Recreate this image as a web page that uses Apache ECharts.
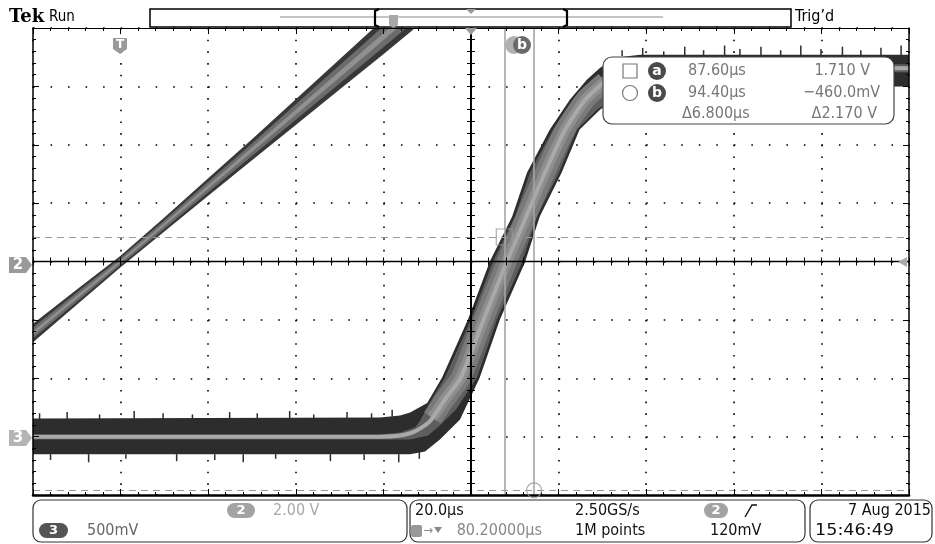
<!DOCTYPE html>
<html><head><meta charset="utf-8">
<script src="https://cdn.jsdelivr.net/npm/echarts/dist/echarts.min.js"></script>
<style>html,body{margin:0;padding:0;background:#fff}#c{width:935px;height:544px}</style>
</head><body><div id="c"></div><script>
// ---- axes (oscilloscope graticule) ----
const timeRange = [-20, 180, 20];      // µs, 20.0µs/div, trigger at t=0
const ch2Range  = [-8, 8, 2];          // V, 2.00 V/div
const ch3Range  = [-0.5, 3.5, 0.5];    // V, 500mV/div

// ---- channel 2 : ramp (band edges) ----
const ch2Time  = [-20, -10, 0, 10, 20, 30, 40, 50, 60, 70];
const ch2Upper = [-2.13, -0.96, 0.20, 1.51, 2.85, 4.19, 5.56, 6.93, 8.30, 9.66];
const ch2Lower = [-2.77, -1.48, -0.20, 1.03, 2.25, 3.47, 4.68, 5.89, 7.10, 8.34];

// ---- channel 3 : step (persistence band) [t µs, V] ----
const ch3UpperEdge = [[-20,0.156],[59.2,0.164],[63.8,0.18],[66.1,0.207],[70.0,0.287],[73.4,0.507],[79.3,1.004],[84.3,1.50],[89.4,1.885],[92.8,2.262],[98.0,2.630],[102.6,2.887],[106.5,3.058],[109.5,3.16],[112.9,3.245],[118.6,3.27],[180,3.27]];
const ch3LowerEdge = [[-20,-0.152],[66.1,-0.152],[69.5,-0.127],[72.9,-0.024],[77.5,0.147],[82.0,0.507],[86.6,1.004],[92.3,1.491],[95.7,1.885],[100.7,2.262],[104.8,2.630],[109.5,2.802],[114.0,2.913],[119.7,2.973],[125.4,2.99],[180,3.0]];
const ch3InnerUpper = [[-20,0.019],[59.2,0.019],[63.8,0.036],[67.2,0.079],[68.4,0.139],[70.6,0.293],[74.06,0.507],[80.0,1.004],[85.0,1.50],[90.04,1.885],[93.47,2.262],[98.72,2.63],[103.28,2.87],[107.62,3.015],[113.0,3.18],[123.2,3.19],[180,3.19]];
const ch3InnerLower = [[-20,-0.024],[66.1,-0.024],[70.2,0.01],[72.9,0.096],[76.6,0.233],[81.37,0.507],[85.93,1.004],[91.64,1.491],[95.06,1.885],[100.09,2.262],[104.2,2.63],[108.8,2.80],[113.2,2.92],[117.0,3.06],[122.0,3.11],[180,3.12]];
const ch3RiseCore = [[71.2,0.16],[74.1,0.32],[77.7,0.507],[82.9,1.004],[88.2,1.50],[92.6,1.885],[96.9,2.262],[101.5,2.63],[106.1,2.887],[110.6,3.04]];
const ch3Center = [[-20,0],[59.2,0],[63.8,0.01],[67.2,0.045],[70.6,0.13],[74.1,0.32],[77.7,0.507],[82.9,1.004],[88.2,1.50],[92.6,1.885],[96.9,2.262],[101.5,2.63],[106.1,2.887],[110.6,3.04],[116.3,3.13],[123.2,3.155],[180,3.155]];
// noise spikes [t, from V, to V]
const ch3Spikes = [[-18.5,0.15,0.20],[-12.2,0.15,0.21],[-4.8,0.15,0.19],[3.1,0.15,0.22],[9.7,0.15,0.20],[16.4,0.15,0.19],[24.9,0.15,0.21],[31.2,0.15,0.20],[38.6,0.15,0.22],[44.1,0.15,0.19],[51.7,0.15,0.21],[57.3,0.15,0.20],[62.0,0.17,0.23],
  [-16.0,-0.15,-0.20],[-7.3,-0.15,-0.22],[1.2,-0.15,-0.19],[12.8,-0.15,-0.21],[21.5,-0.15,-0.20],[28.0,-0.15,-0.22],[35.4,-0.15,-0.19],[47.9,-0.15,-0.21],[55.6,-0.15,-0.20],[63.5,-0.15,-0.22],[68.2,-0.13,-0.19],
  [114.5,3.26,3.31],[119.2,3.26,3.33],[124.0,3.26,3.30],[128.8,3.26,3.34],[133.1,3.26,3.31],[137.9,3.26,3.35],[141.4,3.26,3.32],[146.2,3.26,3.34],[150.7,3.26,3.31],[155.3,3.26,3.35],[159.9,3.26,3.32],[164.8,3.26,3.34],[169.0,3.26,3.31],[173.6,3.26,3.33],[178.2,3.26,3.35]];

// ---- cursors (on ch3) ----
const cursorTimes = [87.6, 94.4];
const cursorVolts = [1.71, -0.46];

const FONT = "'Liberation Sans Narrow','DejaVu Sans Condensed','DejaVu Sans',sans-serif";

function axis(range, o) {
  return {
    type: 'value', min: range[0], max: range[1], interval: range[2],
    position: o.pos, offset: o.offset || 0, z: o.z || 0, show: o.show !== false, silent: true,
    axisLabel: { show: false },
    axisLine: { show: !!o.line, onZero: false, lineStyle: { color: '#000', width: o.lw || 1 } },
    axisTick: { show: !!o.tick, inside: !!o.inside, length: o.tick || 0, lineStyle: { color: '#000', width: 1 } },
    minorTick: { show: !!o.minor, splitNumber: 5, length: o.minor || 0, lineStyle: { color: '#000', width: 1 } },
    splitLine: { show: !!o.split, lineStyle: { color: '#000', width: 1.6, type: o.split || 'solid' } },
    minorSplitLine: { show: false }
  };
}

function poly(upper, lower, fill, yIdx, z) {
  const pts = upper.concat(lower.slice().reverse());
  return {
    type: 'custom', coordinateSystem: 'cartesian2d', xAxisIndex: 0, yAxisIndex: yIdx, z: z,
    silent: true, clip: true, data: [pts[0]],
    renderItem: function (p, api) {
      return { type: 'polygon', shape: { points: pts.map(function (q) { return api.coord(q); }) }, style: { fill: fill } };
    }
  };
}
function ch2Band(f1, f2) {
  const up = [], lo = [];
  for (let i = 0; i < ch2Time.length; i++) {
    const d = ch2Lower[i] - ch2Upper[i];
    up.push([ch2Time[i], ch2Upper[i] + d * f1]);
    lo.push([ch2Time[i], ch2Upper[i] + d * f2]);
  }
  return [up, lo];
}

const b0 = ch2Band(0, 1), b1 = ch2Band(0.2, 0.8), b2 = ch2Band(0.4, 0.6);

function txt(x, y, s, o) {
  o = o || {};
  return { type: 'text', x: x, y: y, z: 100, silent: true, scaleX: o.sx || 1, scaleY: 1,
    style: { text: s, fill: o.c || '#222', font: (o.w || 'normal') + ' ' + (o.fs || 16) + 'px ' + (o.f || FONT),
      textAlign: o.a || 'left', textVerticalAlign: 'middle', verticalAlign: 'middle' } };
}
function pill(x, y, w, h, fill, label, lc) {
  return [
    { type: 'rect', z: 100, silent: true, shape: { x: x, y: y, width: w, height: h, r: h / 2 }, style: { fill: fill } },
    txt(x + w / 2, y + h / 2 + 0.5, label, { c: lc || '#fff', w: 'bold', fs: 13, a: 'center', f: "'DejaVu Sans',sans-serif" })
  ];
}
function circ(cx, cy, r, fill, label) {
  return [
    { type: 'circle', z: 100, silent: true, shape: { cx: cx, cy: cy, r: r }, style: { fill: fill } },
    txt(cx, cy + 0.5, label, { c: '#fff', w: 'bold', fs: 14, a: 'center', f: "'DejaVu Sans',sans-serif" })
  ];
}

const graphics = [].concat(
  [txt(9, 17, 'Tek', { w: 'bold', fs: 19, f: "'DejaVu Serif',serif", c: '#000', sx: 0.95 }),
   txt(49, 17, 'Run', { fs: 15, c: '#000' }),
   txt(795, 17, 'Trig\u2019d', { fs: 16, c: '#000' }),
   // record view bar
   { type: 'rect', z: 100, silent: true, shape: { x: 150, y: 9, width: 641, height: 18 }, style: { fill: '#fff', stroke: '#000', lineWidth: 1.5 } },
   { type: 'line', z: 101, silent: true, shape: { x1: 280, y1: 17, x2: 663, y2: 17 }, style: { stroke: '#8a8a8a', lineWidth: 1.2 } },
   { type: 'polyline', z: 102, silent: true, shape: { points: [[379, 9], [375, 11], [375, 25], [379, 27]] }, style: { stroke: '#000', lineWidth: 2.2, fill: null } },
   { type: 'polyline', z: 102, silent: true, shape: { points: [[563, 9], [567, 11], [567, 25], [563, 27]] }, style: { stroke: '#000', lineWidth: 2.2, fill: null } },
   { type: 'polygon', z: 102, silent: true, shape: { points: [[389, 15], [398, 15], [398, 25], [393.5, 28], [389, 25]] }, style: { fill: '#a8a8a8' } },
   { type: 'polygon', z: 102, silent: true, shape: { points: [[466, 9], [476, 9], [471, 14]] }, style: { fill: '#999' } },
   // trigger / markers on graticule
   { type: 'polygon', z: 100, silent: true, shape: { points: [[113, 38], [127, 38], [127, 49], [120, 54], [113, 49]] }, style: { fill: '#9a9a9a' } },
   txt(120, 45, 'T', { c: '#fff', w: 'bold', fs: 12, a: 'center', f: "'DejaVu Sans',sans-serif" }),
   { type: 'polygon', z: 100, silent: true, shape: { points: [[465, 28], [477, 28], [471, 35]] }, style: { fill: '#9a9a9a' } },
   { type: 'polygon', z: 100, silent: true, shape: { points: [[898, 262], [907, 257], [907, 267]] }, style: { fill: '#aaa' } },
   { type: 'polygon', z: 100, silent: true, shape: { points: [[9, 257], [26, 257], [32, 265], [26, 273], [9, 273]] }, style: { fill: '#9a9a9a' } },
   txt(18, 265, '2', { c: '#fff', w: 'bold', fs: 15, a: 'center', f: "'DejaVu Sans',sans-serif" }),
   { type: 'polygon', z: 100, silent: true, shape: { points: [[9, 430], [26, 430], [32, 438], [26, 446], [9, 446]] }, style: { fill: '#b4b4b4' } },
   txt(18, 438, '3', { c: '#fff', w: 'bold', fs: 15, a: 'center', f: "'DejaVu Sans',sans-serif" })],
  circ(514, 45, 9, '#b0b0b0', ''),
  circ(522, 45, 9, '#6a6a6a', 'b'),
  // readout box
  [{ type: 'rect', z: 100, silent: true, shape: { x: 603, y: 57, width: 291, height: 67, r: 9 }, style: { fill: '#fff', stroke: '#444', lineWidth: 1.2 } },
   { type: 'rect', z: 101, silent: true, shape: { x: 623, y: 64, width: 14, height: 14 }, style: { fill: null, stroke: '#777', lineWidth: 1.2 } },
   { type: 'circle', z: 101, silent: true, shape: { cx: 630, cy: 93, r: 7.5 }, style: { fill: null, stroke: '#777', lineWidth: 1.2 } }],
  circ(657, 71, 9, '#4a4a4a', 'a'),
  circ(657, 93, 9, '#4a4a4a', 'b'),
  [txt(688, 71, '87.60\u00b5s', { c: '#777' }),
   txt(870, 71, '1.710 V', { c: '#777', a: 'right' }),
   txt(688, 93, '94.40\u00b5s', { c: '#777' }),
   txt(880, 93, '\u2212460.0mV', { c: '#777', a: 'right' }),
   txt(682, 114, '\u03946.800\u00b5s', { c: '#777' }),
   txt(877, 114, '\u03942.170 V', { c: '#777', a: 'right' }),
   // bottom status boxes
   { type: 'rect', z: 100, silent: true, shape: { x: 33, y: 500, width: 374, height: 42, r: 8 }, style: { fill: '#fff', stroke: '#333', lineWidth: 1.2 } },
   { type: 'rect', z: 100, silent: true, shape: { x: 410, y: 500, width: 395, height: 42, r: 8 }, style: { fill: '#fff', stroke: '#333', lineWidth: 1.2 } },
   { type: 'rect', z: 100, silent: true, shape: { x: 810, y: 500, width: 122, height: 42, r: 8 }, style: { fill: '#fff', stroke: '#333', lineWidth: 1.2 } }],
  pill(227, 503, 28, 15, '#a3a3a3', '2'),
  [txt(273, 511, '2.00 V', { c: '#a8a8a8' })],
  pill(39, 523, 29, 15, '#555', '3'),
  [txt(87, 531, '500mV', { c: '#666' }),
   txt(415, 511, '20.0\u00b5s', { c: '#111' }),
   { type: 'rect', z: 101, silent: true, shape: { x: 411, y: 525, width: 11, height: 12, r: 2 }, style: { fill: '#999' } },
   txt(416.5, 531, 'T', { c: '#fff', w: 'bold', fs: 10, a: 'center', f: "'DejaVu Sans',sans-serif" }),
   txt(423, 531, '\u2192', { c: '#888', fs: 12, f: "'DejaVu Sans',sans-serif" }),
   { type: 'polygon', z: 101, silent: true, shape: { points: [[434, 527], [442, 527], [438, 533]] }, style: { fill: '#888' } },
   txt(542, 531, '80.20000\u00b5s', { c: '#888', a: 'right' }),
   txt(575, 511, '2.50GS/s', { c: '#111' }),
   txt(575, 531, '1M points', { c: '#111' })],
  pill(704, 503, 24, 15, '#a3a3a3', '2'),
  [{ type: 'polyline', z: 101, silent: true, shape: { points: [[745, 517], [752, 505], [757, 505]] }, style: { stroke: '#111', lineWidth: 1.4, fill: null } },
   txt(710, 531, '120mV', { c: '#111' }),
   txt(931, 511, '7 Aug 2015', { c: '#111', a: 'right' }),
   txt(815, 531, '15:46:49', { c: '#111', fs: 16, f: "'DejaVu Sans',sans-serif", sx: 1.1 })]
);

const option = {
  animation: false,
  backgroundColor: '#fff',
  grid: { left: 33, top: 28, width: 876, height: 467, containLabel: false, outerBoundsMode: 'none' },
  xAxis: [
    axis(timeRange, { pos: 'bottom', split: [1.6, 10.075], z: 0 }),
    axis(timeRange, { pos: 'bottom', line: true, lw: 2.5, tick: 6, minor: 3, inside: true, z: 5 }),
    axis(timeRange, { pos: 'top', line: true, lw: 1.2, tick: 6, minor: 3, inside: true, z: 5 }),
    axis(timeRange, { pos: 'bottom', offset: -233.5, line: true, lw: 1.4, tick: 4, minor: 4, inside: true, z: 5 }),
    axis(timeRange, { pos: 'bottom', offset: -233.5, tick: 4, minor: 4, inside: false, z: 5 })
  ],
  yAxis: [
    axis(ch2Range, { pos: 'left', split: [1.6, 15.92], z: 0 }),
    axis(ch3Range, { pos: 'left', show: false }),
    axis(ch2Range, { pos: 'left', line: true, lw: 1.5, tick: 6, minor: 3, inside: true, z: 5 }),
    axis(ch2Range, { pos: 'right', line: true, lw: 1.5, tick: 6, minor: 3, inside: true, z: 5 }),
    axis(ch2Range, { pos: 'left', offset: -438, line: true, lw: 2, tick: 4, minor: 4, inside: true, z: 5 }),
    axis(ch2Range, { pos: 'left', offset: -438, tick: 4, minor: 4, inside: false, z: 5 })
  ],
  series: [
    poly(b0[0], b0[1], '#383838', 0, 2),
    poly(b1[0], b1[1], '#6c6c6c', 0, 2.1),
    poly(b2[0], b2[1], '#909090', 0, 2.2),
    poly(ch3UpperEdge, ch3LowerEdge, '#2d2d2d', 1, 2),
    poly(ch3InnerUpper, ch3InnerLower, '#5e5e5e', 1, 2.1),
    {
      type: 'custom', coordinateSystem: 'cartesian2d', xAxisIndex: 0, yAxisIndex: 1, z: 2.05, silent: true, clip: true,
      data: ch3Spikes,
      renderItem: function (p, api) {
        const a = api.coord([api.value(0), api.value(1)]), b = api.coord([api.value(0), api.value(2)]);
        return { type: 'line', shape: { x1: a[0], y1: a[1], x2: b[0], y2: b[1] }, style: { stroke: '#2d2d2d', lineWidth: 1.5 } };
      }
    },
    {
      type: 'line', xAxisIndex: 0, yAxisIndex: 1, z: 2.2, silent: true, data: ch3RiseCore,
      showSymbol: false, symbol: 'none', smooth: 0.2, lineStyle: { color: '#7a7a7a', width: 20, cap: 'butt', join: 'round' }
    },
    {
      type: 'line', xAxisIndex: 0, yAxisIndex: 1, z: 2.25, silent: true, data: ch3RiseCore,
      showSymbol: false, symbol: 'none', smooth: 0.2, lineStyle: { color: '#8e8e8e', width: 11, cap: 'butt', join: 'round' }
    },
    {
      type: 'line', xAxisIndex: 0, yAxisIndex: 1, z: 2.3, silent: true, data: ch3Center,
      showSymbol: false, symbol: 'none', smooth: 0.2, lineStyle: { color: '#a9a9a9', width: 4 }
    },
    {
      type: 'scatter', xAxisIndex: 0, yAxisIndex: 1, z: 6, silent: true,
      data: [[cursorTimes[0], cursorVolts[0]]], symbol: 'rect', symbolSize: 16,
      itemStyle: { color: 'rgba(0,0,0,0)', borderColor: '#999', borderWidth: 1.2 },
      markLine: { silent: true, symbol: ['none', 'none'], label: { show: false },
        lineStyle: { color: '#a5a5a5', width: 1.6, type: 'solid' },
        data: [{ xAxis: cursorTimes[0] }, { xAxis: cursorTimes[1] }] }
    },
    {
      type: 'scatter', xAxisIndex: 0, yAxisIndex: 1, z: 6, silent: true,
      data: [[cursorTimes[1], cursorVolts[1]]], symbol: 'circle', symbolSize: 15,
      itemStyle: { color: 'rgba(0,0,0,0)', borderColor: '#999', borderWidth: 1.2 },
      markLine: { silent: true, symbol: ['none', 'none'], label: { show: false },
        lineStyle: { color: '#999', width: 1.2, type: [7, 5] },
        data: [{ yAxis: cursorVolts[0] }, { yAxis: cursorVolts[1] }] }
    }
  ],
  graphic: { elements: graphics }
};

const chart = echarts.init(document.getElementById('c'), null, { renderer: 'canvas' });
chart.setOption(option);
</script></body></html>
